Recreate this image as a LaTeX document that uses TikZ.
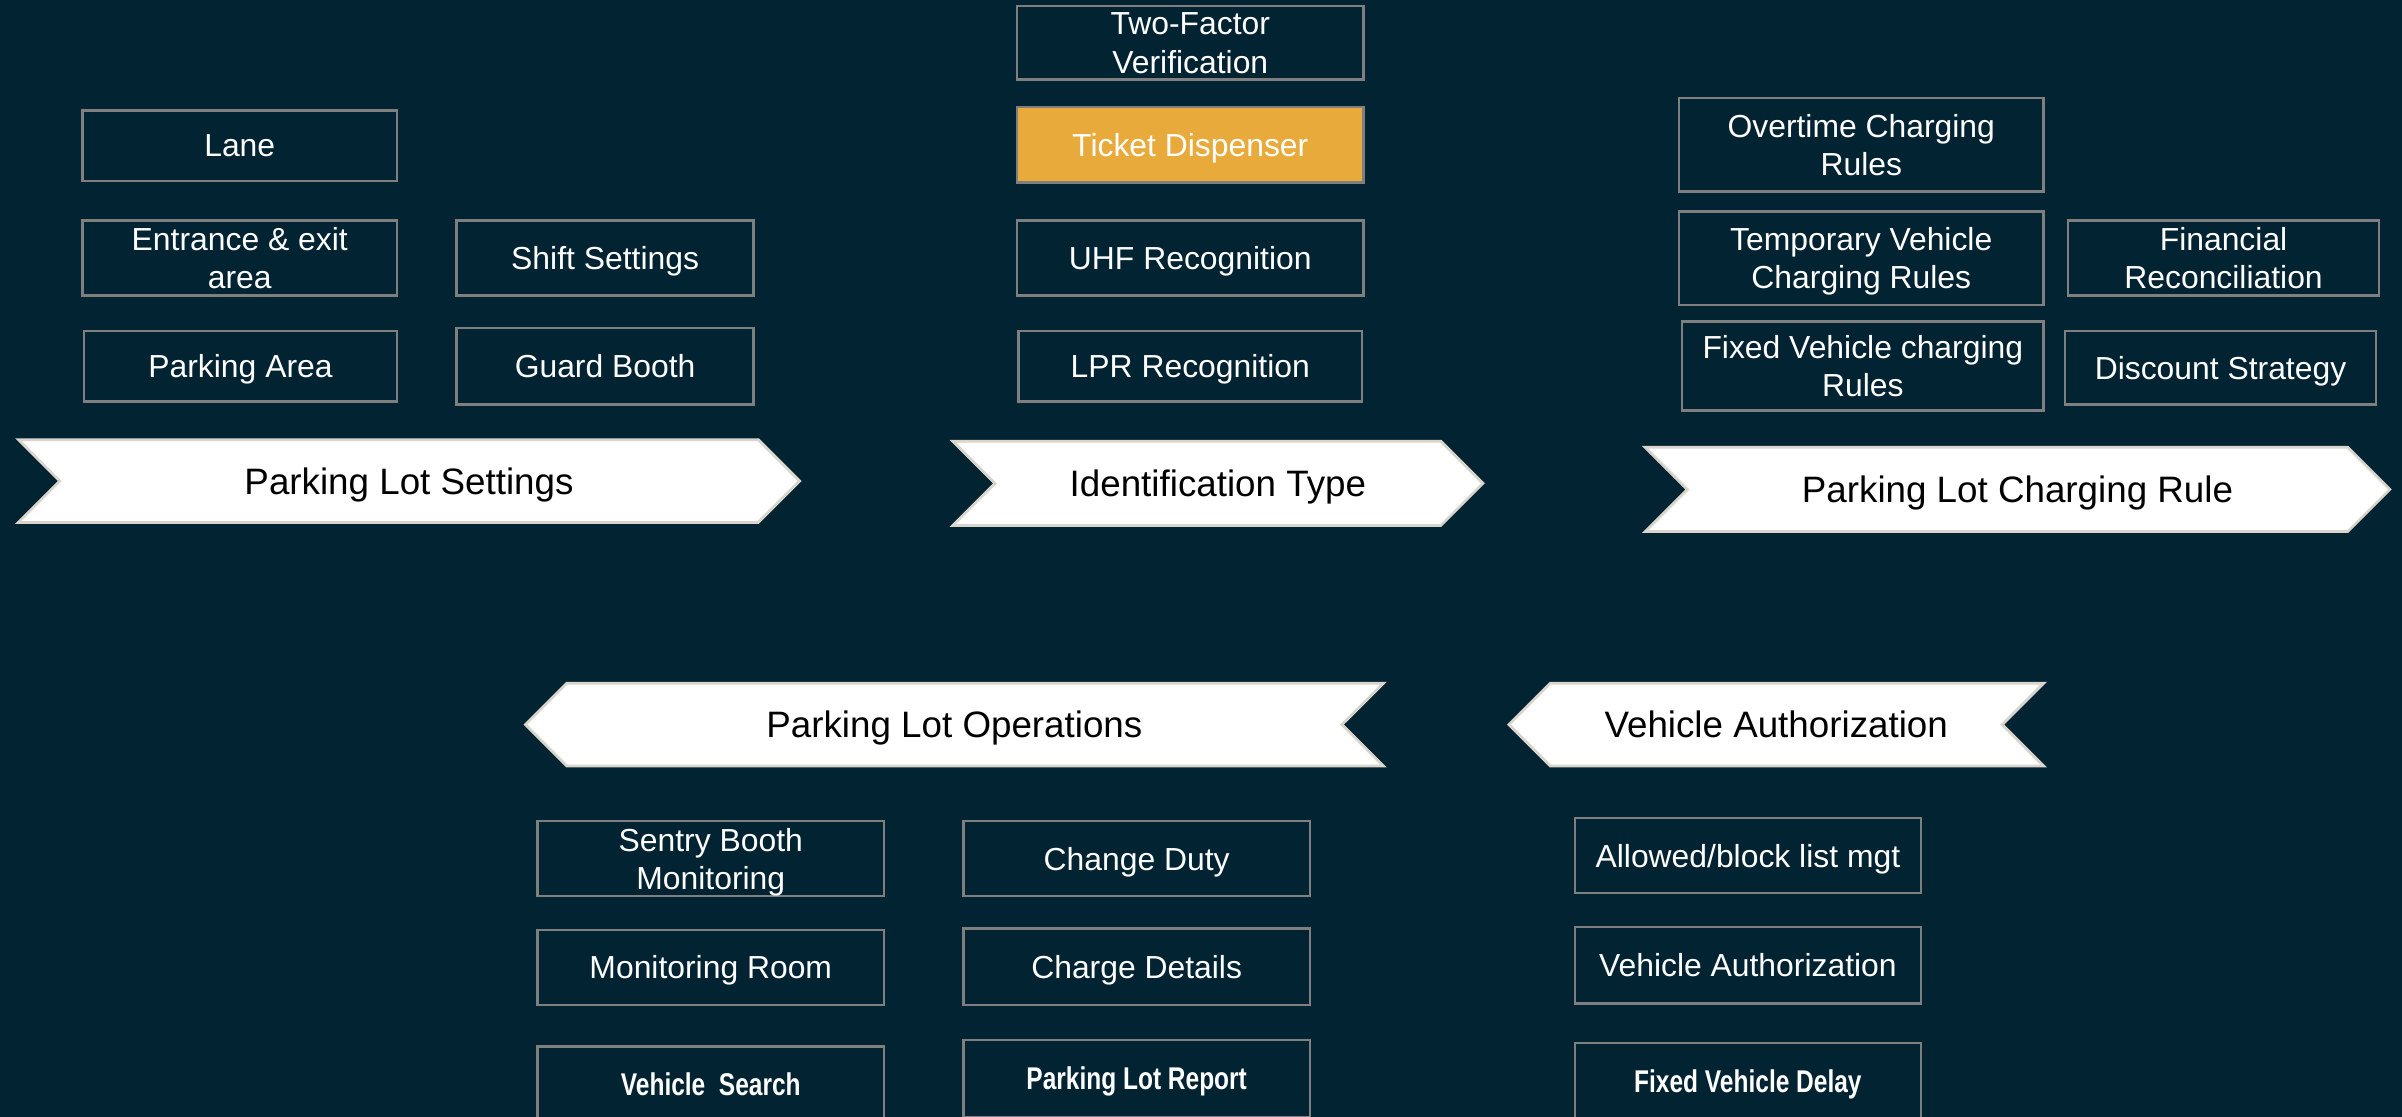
\documentclass[tikz,border=0pt]{standalone}
\usepackage{fontspec}
\setmainfont{Liberation Sans}
\newfontfamily\narrowbold[FakeStretch=0.78]{Liberation Sans}
\usetikzlibrary{shapes.symbols, positioning}

\begin{document}
\begin{tikzpicture}[x=1pt, y=-1pt,
  cell/.style={draw=moldura, line width=1.6pt, fill=fundo, text=white, align=center, inner sep=0pt, text depth=0pt, font=\fontsize{20.8}{25}\selectfont},
  report/.style={cell, font=\narrowbold\bfseries\fontsize{20.5}{24}\selectfont},
  flagright/.style={shape=signal, signal to=east, signal from=west, signal pointer angle=90, draw=borda, line width=1.8pt, fill=white, inner sep=0pt, text depth=0pt, font=\fontsize{24}{28}\selectfont},
  flagleft/.style={shape=signal, signal to=west, signal from=east, signal pointer angle=90, draw=borda, line width=1.8pt, fill=white, inner sep=0pt, text depth=0pt, font=\fontsize{24}{28}\selectfont}]
% --- FUNDO ESCURO, CAIXAS CINZA E SETAS BRANCAS ---
\definecolor{fundo}{HTML}{022332}
\definecolor{moldura}{HTML}{7F7F7F}
\definecolor{borda}{HTML}{D9D5CC}
\definecolor{destaque}{HTML}{E8AA3A}

% LAYER 1: Fundo
\fill[fundo] (0,0) rectangle (1568,729);
\useasboundingbox (0,0) rectangle (1568,729);
\clip (0,0) rectangle (1568,729);

% LAYER 2: Parking Lot Settings
\node[cell, minimum width=205, minimum height=46] (lane) at (156.5,95) {Lane};
\node[cell, minimum width=205, minimum height=49] (entrance) at (156.5,168.5) {Entrance \& exit\\area};
\node[cell, minimum width=204, minimum height=46] (area) at (157,239) {Parking Area};
\node[cell, minimum width=194, minimum height=49] (shift) at (395,168.5) {Shift Settings};
\node[cell, minimum width=194, minimum height=50] (booth) at (395,239) {Guard Booth};
\node[flagright, minimum width=510, minimum height=54] (settings) at (267,314) {Parking Lot Settings};

% LAYER 3: Identification Type
\node[cell, minimum width=226, minimum height=48] (twofactor) at (777,28) {Two-Factor\\Verification};
\node[cell, fill=destaque, minimum width=226, minimum height=49] (ticket) at (777,94.5) {Ticket Dispenser};
\node[cell, minimum width=226, minimum height=49] (uhf) at (777,168.5) {UHF Recognition};
\node[cell, minimum width=224, minimum height=46] (lpr) at (777,239) {LPR Recognition};
\node[flagright, minimum width=346, minimum height=55] (ident) at (795,315.5) {Identification Type};

% LAYER 4: Parking Lot Charging Rule
\node[cell, minimum width=238, minimum height=61] (overtime) at (1215,94.5) {Overtime Charging\\Rules};
\node[cell, minimum width=238, minimum height=61] (temporary) at (1215,168.5) {Temporary Vehicle\\Charging Rules};
\node[cell, minimum width=236, minimum height=58] (fixed) at (1216,239) {Fixed Vehicle charging\\Rules};
\node[cell, minimum width=203, minimum height=49] (financial) at (1451.5,168.5) {Financial\\Reconciliation};
\node[cell, minimum width=203, minimum height=48] (discount) at (1449.5,240) {Discount Strategy};
\node[flagright, minimum width=486, minimum height=55] (charging) at (1317,319.5) {Parking Lot Charging Rule};

% LAYER 5: Parking Lot Operations
\node[flagleft, minimum width=560, minimum height=54] (operations) at (623,473) {Parking Lot Operations};
\node[cell, minimum width=226, minimum height=49] (sentry) at (464,560.5) {Sentry Booth\\Monitoring};
\node[cell, minimum width=226, minimum height=49] (room) at (464,631.5) {Monitoring Room};
\node[report, minimum width=226, minimum height=50] (search) at (464,708) {Vehicle\ \ Search};
\node[cell, minimum width=226, minimum height=49] (duty) at (742,560.5) {Change Duty};
\node[cell, minimum width=226, minimum height=50] (details) at (742,631) {Charge Details};
\node[report, minimum width=226, minimum height=50] (lotreport) at (742,704) {Parking Lot Report};

% LAYER 6: Vehicle Authorization
\node[flagleft, minimum width=349, minimum height=54] (authflag) at (1159.5,473) {Vehicle Authorization};
\node[cell, minimum width=226, minimum height=49] (blocklist) at (1141,558.5) {Allowed/block list mgt};
\node[cell, minimum width=226, minimum height=50] (auth) at (1141,630) {Vehicle Authorization};
\node[report, minimum width=226, minimum height=50] (delay) at (1141,706) {Fixed Vehicle Delay};
\end{tikzpicture}
\end{document}
